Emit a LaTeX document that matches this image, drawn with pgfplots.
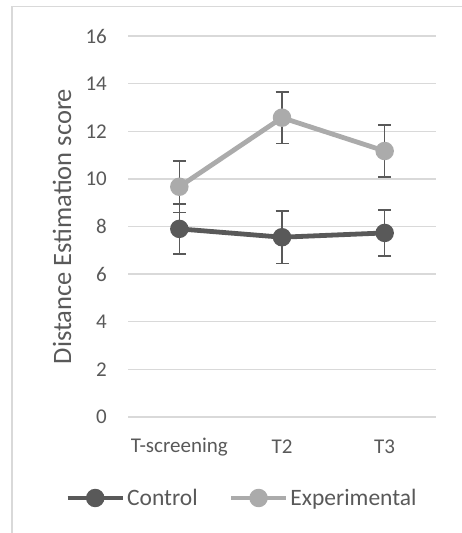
\documentclass[border=0pt]{standalone}
\usepackage{fontspec}
\setmainfont{Carlito}
\usepackage{pgfplots}
\pgfplotsset{compat=1.18}
\definecolor{ctrl}{HTML}{595959}
\definecolor{expc}{HTML}{ABABAB}
\definecolor{gridc}{HTML}{D9D9D9}
\definecolor{txt}{HTML}{595959}
\begin{document}
\begin{tikzpicture}[x=1pt,y=1pt]
\useasboundingbox (0,0) rectangle (462,533);
\draw[gridc, line width=1.3pt] (12,0) -- (12,526.5) -- (462,526.5);
\begin{axis}[
  at={(128pt,116pt)}, anchor=south west,
  scale only axis, width=308pt, height=381pt,
  xmin=-0.5, xmax=2.5, ymin=0, ymax=16,
  xtick={0,1,2}, xticklabels={T-screening,T2,T3},
  ytick={0,2,...,16},
  /pgf/number format/assume math mode=true,
  axis line style={draw=none},
  major tick length=0pt,
  ymajorgrids, grid style={gridc, line width=1.3pt},
  tick label style={font=\fontsize{21}{24}\selectfont, text=txt},
  yticklabel style={anchor=east, inner sep=0pt, xshift=-21pt},
  xticklabel style={anchor=center, inner sep=0pt, yshift=-30pt},
  ylabel={Distance Estimation score},
  ylabel style={at={(axis description cs:-0.2143,0.5)}, anchor=center, font=\fontsize{26.5}{30}\selectfont, text=txt},
  legend style={at={(axis description cs:0.370,-0.2126)}, anchor=center, draw=none, fill=none,
    legend columns=2, font=\fontsize{23.5}{26}\selectfont, text=txt,
    /tikz/every even column/.append style={column sep=29pt},
    nodes={inner sep=2pt}},
  legend cell align=left,
  legend image code/.code={\draw[mark repeat=2,mark phase=2,#1] plot coordinates {(0pt,0pt)(27.5pt,0pt)(55pt,0pt)};},
  clip=false,
]
\addplot[ctrl, line width=4.8pt, mark=*, mark size=6.8pt, mark options={solid, fill=ctrl, draw=none},
  error bars/.cd, y dir=both, y explicit,
  error bar style={line width=1.5pt, color=ctrl}, error mark options={rotate=90, mark size=6.5pt, line width=1.5pt, color=ctrl}]
  coordinates {(0,7.90) +- (0,1.05) (1,7.55) +- (0,1.10) (2,7.73) +- (0,0.96)};
\addlegendentry{Control}
\addplot[expc, line width=4.8pt, mark=*, mark size=6.8pt, mark options={solid, fill=expc, draw=none},
  error bars/.cd, y dir=both, y explicit,
  error bar style={line width=1.5pt, color=ctrl}, error mark options={rotate=90, mark size=6.5pt, line width=1.5pt, color=ctrl}]
  coordinates {(0,9.67) +- (0,1.08) (1,12.57) +- (0,1.08) (2,11.17) +- (0,1.09)};
\addlegendentry{Experimental}
\end{axis}
\end{tikzpicture}
\end{document}
